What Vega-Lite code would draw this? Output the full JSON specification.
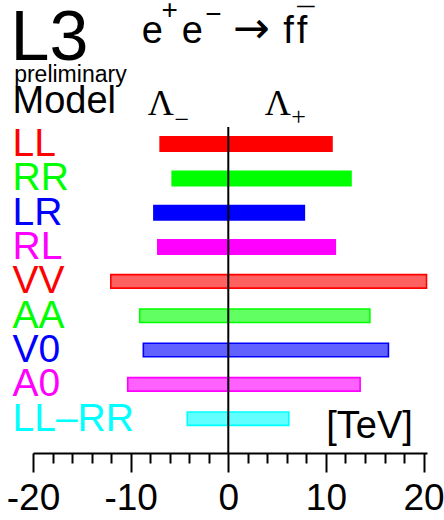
{
  "$schema": "https://vega.github.io/schema/vega-lite/v6.json",
  "description": "L3 preliminary limits on contact-interaction scales Lambda- and Lambda+ (TeV) for e+e- -> ff, by model.",
  "width": 394,
  "height": 429,
  "autosize": {"type": "none"},
  "padding": {"left": 33, "top": 24, "right": 17, "bottom": 67},
  "background": "white",
  "config": {"view": {"stroke": null}, "font": "Liberation Sans"},
  "datasets": {
    "limits": [
      {"row": "LL", "style": "solid", "lambdaMinus": -7.06, "lambdaPlus": 10.7},
      {"row": "RR", "style": "solid", "lambdaMinus": -5.83, "lambdaPlus": 12.65},
      {"row": "LR", "style": "solid", "lambdaMinus": -7.7, "lambdaPlus": 7.87},
      {"row": "RL", "style": "solid", "lambdaMinus": -7.3, "lambdaPlus": 11.04},
      {"row": "VV", "style": "hatched", "lambdaMinus": -12.03, "lambdaPlus": 20.3},
      {"row": "AA", "style": "hatched", "lambdaMinus": -9.07, "lambdaPlus": 14.5},
      {"row": "V0", "style": "hatched", "lambdaMinus": -8.7, "lambdaPlus": 16.4},
      {"row": "A0", "style": "hatched", "lambdaMinus": -10.3, "lambdaPlus": 13.5},
      {"row": "LL–RR", "style": "hatched", "lambdaMinus": -4.2, "lambdaPlus": 6.2}
    ]
  },
  "resolve": {"axis": {"x": "independent"}},
  "encoding": {
    "y": {
      "field": "row",
      "type": "nominal",
      "sort": null,
      "scale": {
        "type": "band",
        "domain": ["title", "note", "header", "LL", "RR", "LR", "RL", "VV", "AA", "V0", "A0", "LL–RR"],
        "paddingInner": 0,
        "paddingOuter": 0.25,
        "align": 0
      },
      "axis": {
        "title": null,
        "domain": false,
        "ticks": false,
        "tickSize": 0,
        "labelAlign": "left",
        "labelBaseline": "middle",
        "labelPadding": 21,
        "labelFontSize": 39,
        "labelFont": "Liberation Sans",
        "labelLimit": 0,
        "labelExpr": "indexof(['title', 'note', 'header'], datum.value) >= 0 ? '' : datum.label",
        "labelColor": {
          "condition": [
            {"test": "datum.value === 'LL' || datum.value === 'VV'", "value": "#ff0000"},
            {"test": "datum.value === 'RR' || datum.value === 'AA'", "value": "#00ff00"},
            {"test": "datum.value === 'LR' || datum.value === 'V0'", "value": "#0000ff"},
            {"test": "datum.value === 'RL' || datum.value === 'A0'", "value": "#ff00ff"},
            {"test": "datum.value === 'LL–RR'", "value": "#00ffff"}
          ],
          "value": "black"
        }
      }
    }
  },
  "layer": [
    {
      "data": {"name": "limits"},
      "transform": [{"filter": "datum.style === 'solid'"}],
      "mark": {"type": "bar", "height": {"band": 0.466}, "strokeWidth": 0},
      "encoding": {
        "x": {
          "field": "lambdaMinus",
          "type": "quantitative",
          "scale": {"domain": [-20, 20.35], "nice": false, "zero": false},
          "axis": {
            "orient": "bottom",
            "title": null,
            "grid": false,
            "domain": false,
            "labels": false,
            "values": [-18, -16, -14, -12, -8, -6, -4, -2, 2, 4, 6, 8, 12, 14, 16, 18],
            "tickColor": "black",
            "tickWidth": 2,
            "tickSize": 10
          }
        },
        "x2": {"field": "lambdaPlus"},
        "fill": {
          "field": "row",
          "type": "nominal",
          "scale": {"domain": ["LL", "RR", "LR", "RL", "VV", "AA", "V0", "A0", "LL–RR"], "range": ["#ff0000", "#00ff00", "#0000ff", "#ff00ff", "#ff0000", "#00ff00", "#0000ff", "#ff00ff", "#00ffff"]},
          "legend": null
        }
      }
    },
    {
      "data": {"name": "limits"},
      "transform": [{"filter": "datum.style === 'hatched'"}],
      "mark": {"type": "bar", "height": {"band": 0.393}, "strokeWidth": 1.6, "fillOpacity": 0.62},
      "encoding": {
        "x": {
          "field": "lambdaMinus",
          "type": "quantitative",
          "scale": {"domain": [-20, 20.35], "nice": false, "zero": false},
          "axis": {
            "orient": "bottom",
            "title": null,
            "grid": false,
            "values": [-20, -10, 0, 10, 20],
            "labelExpr": "'' + datum.value",
            "labelFlush": false,
            "labelOverlap": false,
            "labelFontSize": 37,
            "labelFont": "Liberation Sans",
            "labelColor": "black",
            "labelPadding": 8,
            "domainColor": "black",
            "domainWidth": 2,
            "tickColor": "black",
            "tickWidth": 2,
            "tickSize": 19
          }
        },
        "x2": {"field": "lambdaPlus"},
        "fill": {"field": "row", "type": "nominal", "legend": null},
        "stroke": {
          "field": "row",
          "type": "nominal",
          "scale": {"domain": ["LL", "RR", "LR", "RL", "VV", "AA", "V0", "A0", "LL–RR"], "range": ["#ff0000", "#00ff00", "#0000ff", "#ff00ff", "#ff0000", "#00ff00", "#0000ff", "#ff00ff", "#00ffff"]},
          "legend": null
        }
      }
    },
    {
      "data": {"values": [{"at": 0}]},
      "mark": {"type": "rule", "color": "black", "strokeWidth": 2},
      "encoding": {
        "x": {"field": "at", "type": "quantitative", "axis": null},
        "y": {"datum": "LL", "type": "nominal", "bandPosition": 0},
        "y2": {"value": "height"}
      }
    },
    {
      "data": {"values": [{"text": "L3", "row": "title", "at": -22.3}]},
      "mark": {"type": "text", "fontSize": 70, "align": "left", "baseline": "alphabetic", "dy": 18.8, "color": "black"},
      "encoding": {"x": {"field": "at", "type": "quantitative", "axis": null}, "text": {"field": "text"}}
    },
    {
      "data": {"values": [{"text": "preliminary", "row": "note", "at": -21.93}]},
      "mark": {"type": "text", "fontSize": 23, "align": "left", "baseline": "alphabetic", "dy": 6.5, "color": "black"},
      "encoding": {"x": {"field": "at", "type": "quantitative", "axis": null}, "text": {"field": "text"}}
    },
    {
      "data": {"values": [{"text": "Model", "row": "header", "at": -22.1}]},
      "mark": {"type": "text", "fontSize": 38, "align": "left", "baseline": "alphabetic", "dy": 3.2, "color": "black"},
      "encoding": {"x": {"field": "at", "type": "quantitative", "axis": null}, "text": {"field": "text"}}
    },
    {
      "data": {"values": [
        {"text": "e", "row": "title", "at": -8.85},
        {"text": "e", "row": "title", "at": -4.76},
        {"text": "f", "row": "title", "at": 5.63},
        {"text": "f", "row": "title", "at": 7.01}
      ]},
      "mark": {"type": "text", "fontSize": 38, "align": "left", "baseline": "alphabetic", "dy": 1.8, "color": "black"},
      "encoding": {"x": {"field": "at", "type": "quantitative", "axis": null}, "text": {"field": "text"}}
    },
    {
      "data": {"values": [{"text": "→", "row": "title", "at": 0.45}]},
      "mark": {"type": "text", "font": "DejaVu Sans", "fontSize": 44, "align": "left", "baseline": "alphabetic", "dy": 1.8, "color": "black"},
      "encoding": {"x": {"field": "at", "type": "quantitative", "axis": null}, "text": {"field": "text"}}
    },
    {
      "data": {"values": [{"text": "+", "row": "title", "at": -6.85}]},
      "mark": {"type": "text", "fontSize": 28, "align": "left", "baseline": "alphabetic", "dy": -22.5, "color": "black"},
      "encoding": {"x": {"field": "at", "type": "quantitative", "axis": null}, "text": {"field": "text"}}
    },
    {
      "data": {"values": [{"text": "−", "row": "title", "at": -2.35}]},
      "mark": {"type": "text", "fontSize": 28, "align": "left", "baseline": "alphabetic", "dy": -18.5, "color": "black"},
      "encoding": {"x": {"field": "at", "type": "quantitative", "axis": null}, "text": {"field": "text"}}
    },
    {
      "data": {"values": [{"text": "¯", "row": "title", "at": 7.05}]},
      "mark": {"type": "text", "fontSize": 31, "align": "left", "baseline": "alphabetic", "dy": -11.2, "color": "black"},
      "encoding": {"x": {"field": "at", "type": "quantitative", "axis": null}, "text": {"field": "text"}}
    },
    {
      "data": {"values": [{"text": "Λ", "row": "header", "at": -8.24}, {"text": "Λ", "row": "header", "at": 3.73}]},
      "mark": {"type": "text", "font": "Liberation Serif", "fontSize": 36, "align": "left", "baseline": "alphabetic", "dy": 5.2, "color": "black"},
      "encoding": {"x": {"field": "at", "type": "quantitative", "axis": null}, "text": {"field": "text"}}
    },
    {
      "data": {"values": [{"text": "−", "row": "header", "at": -5.52}]},
      "mark": {"type": "text", "font": "Liberation Serif", "fontSize": 26, "align": "left", "baseline": "alphabetic", "dy": 18.4, "color": "black"},
      "encoding": {"x": {"field": "at", "type": "quantitative", "axis": null}, "text": {"field": "text"}}
    },
    {
      "data": {"values": [{"text": "+", "row": "header", "at": 6.45}]},
      "mark": {"type": "text", "font": "Liberation Serif", "fontSize": 26, "align": "left", "baseline": "alphabetic", "dy": 15.3, "color": "black"},
      "encoding": {"x": {"field": "at", "type": "quantitative", "axis": null}, "text": {"field": "text"}}
    },
    {
      "data": {"values": [{"text": "[TeV]", "row": "LL–RR", "at": 10.03}]},
      "mark": {"type": "text", "fontSize": 38, "align": "left", "baseline": "alphabetic", "dy": 19.3, "color": "black"},
      "encoding": {"x": {"field": "at", "type": "quantitative", "axis": null}, "text": {"field": "text"}}
    }
  ]
}
